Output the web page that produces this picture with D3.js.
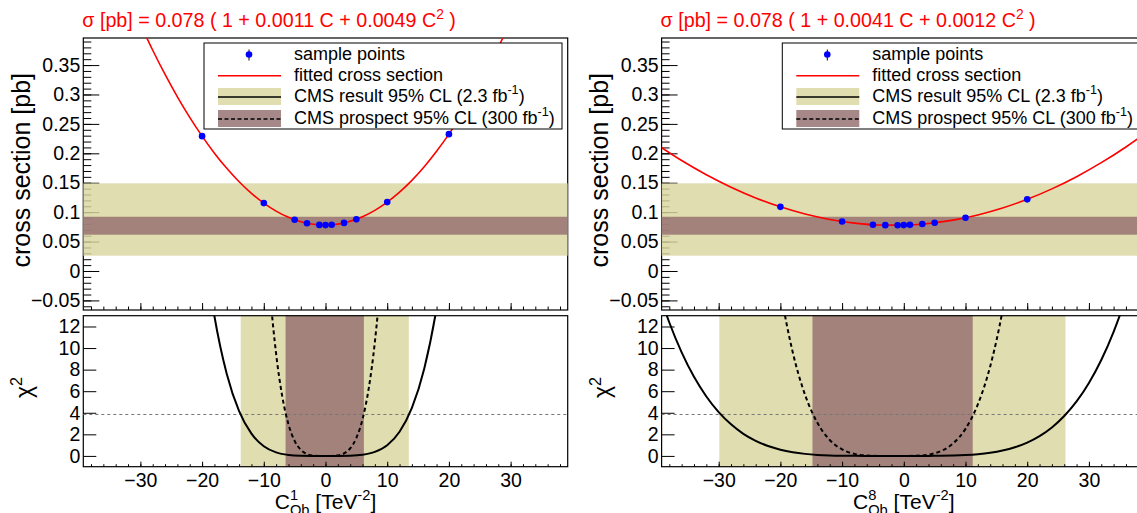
<!DOCTYPE html>
<html>
<head>
<meta charset="utf-8">
<script src="https://cdn.jsdelivr.net/npm/d3@7"></script>
<style>
body { margin: 0; background: #fff; }
svg { display: block; font-family: "Liberation Sans", Arial, Helvetica, sans-serif; }
</style>
</head>
<body>
<svg id="chart" width="1137" height="513"></svg>
<script>
/*global d3 */

// ---- data ----
var titleCoefA = ["0.078", "0.0011", "0.0049"];
var titleCoefB = ["0.078", "0.0041", "0.0012"];
var xTitleSup = ["1", "8"];

// sample points (same C values in both panels)
var sampleC = [-20, -10, -5, -3, -1, 0, 1, 3, 5, 10, 20];
var sampleXsecA = [0.2292, 0.1154, 0.0871, 0.0812, 0.0783, 0.0780, 0.0785, 0.0817, 0.0880, 0.1171, 0.2326];
var sampleXsecB = [0.1090, 0.0842, 0.0787, 0.0779, 0.0778, 0.0780, 0.0784, 0.0798, 0.0819, 0.0906, 0.1218];

// fitted cross section curves
var fitCA = [-30, -28, -26, -24, -22, -20, -18, -16, -14, -12, -10, -8, -6, -4, -2, 0,
             2, 4, 6, 8, 10, 12, 14, 16, 18, 20, 22, 24, 26, 28, 30];
var fitXsecA = [0.4194, 0.3752, 0.3341, 0.2961, 0.2611, 0.2292, 0.2003, 0.1745, 0.1517, 0.1320,
                0.1154, 0.1018, 0.0912, 0.0838, 0.0794, 0.0780, 0.0797, 0.0845, 0.0923, 0.1031,
                0.1171, 0.1341, 0.1541, 0.1772, 0.2034, 0.2326, 0.2649, 0.3002, 0.3386, 0.3800, 0.4246];
var fitCB = [-40, -36, -32, -28, -24, -20, -16, -12, -8, -4, 0, 4, 8, 12, 16, 20, 24, 28, 32, 36, 40];
var fitXsecB = [0.2150, 0.1878, 0.1636, 0.1424, 0.1242, 0.1090, 0.0968, 0.0876, 0.0814, 0.0782,
                0.0780, 0.0808, 0.0865, 0.0953, 0.1071, 0.1218, 0.1396, 0.1603, 0.1841, 0.2108, 0.2406];

// chi2 curves: CMS result (solid) and prospect (dashed)
var chiSolidCA = [-20, -18, -16, -14, -12, -10, -8, -6, -4, -2, 0, 2, 4, 6, 8, 10, 12, 14, 16, 18, 20];
var chiSolidA = [20.9, 12.95, 7.60, 4.15, 2.06, 0.90, 0.326, 0.087, 0.014, 0.001, 0,
                 0.001, 0.017, 0.103, 0.369, 0.99, 2.24, 4.45, 8.09, 13.70, 21.9];
var chiDashCA = [-10, -9, -8, -7, -6, -5, -4, -3, -2, -1, 0, 1, 2, 3, 4, 5, 6, 7, 8, 9, 10];
var chiDashA = [23.3, 15.23, 9.45, 5.49, 2.93, 1.39, 0.557, 0.169, 0.031, 0.0015, 0,
                0.0036, 0.048, 0.228, 0.696, 1.664, 3.40, 6.24, 10.56, 16.81, 25.5];
var chiSolidCB = [-40, -38, -36, -34, -32, -30, -28, -26, -24, -22, -20, -18, -16, -14, -12, -10,
                  -8, -6, -4, -2, 0, 2, 4, 6, 8, 10, 12, 14, 16, 18, 20, 22, 24, 26, 28, 30, 32, 34, 36, 38];
var chiSolidB = [15.73, 12.37, 9.60, 7.33, 5.51, 4.06, 2.93, 2.05, 1.40, 0.914, 0.574, 0.341, 0.189,
                 0.095, 0.042, 0.016, 0.004, 0.0005, 0, 0, 0, 0.0001, 0.003, 0.011, 0.032, 0.076,
                 0.156, 0.289, 0.496, 0.803, 1.24, 1.84, 2.64, 3.70, 5.05, 6.76, 8.89, 11.51, 14.68, 18.49];
var chiDashCB = [-22, -20, -18, -16, -14, -12, -10, -8, -6, -4, -2, 0, 2, 4, 6, 8, 10, 12, 14, 16, 18];
var chiDashB = [23.3, 15.4, 9.62, 5.66, 3.07, 1.48, 0.605, 0.188, 0.034, 0.001, 0.001, 0,
                0.016, 0.123, 0.446, 1.165, 2.51, 4.78, 8.30, 13.48, 20.8];

// 95% CL bands
var xsecBandResult = [0.026, 0.149];
var xsecBandProspect = [0.0617, 0.0922];
var cBandResultA = [-13.74, 13.5];
var cBandProspectA = [-6.47, 6.22];
var cBandResultB = [-29.9, 26.2];
var cBandProspectB = [-14.8, 11.17];
var chiLimit = 3.84;

// axis ticks
var xsecTicks = [-0.05, 0, 0.05, 0.1, 0.15, 0.2, 0.25, 0.3, 0.35];
var xsecTickLabels = ["\u22120.05", "0", "0.05", "0.1", "0.15", "0.2", "0.25", "0.3", "0.35"];
var chiTicks = [0, 2, 4, 6, 8, 10, 12];
var chiTickLabels = ["0", "2", "4", "6", "8", "10", "12"];
var cTicks = [-30, -20, -10, 0, 10, 20, 30];
var cTickLabels = ["\u221230", "\u221220", "\u221210", "0", "10", "20", "30"];

var legendLabels = ["sample points", "fitted cross section", "CMS result 95% CL (2.3 fb", "CMS prospect 95% CL (300 fb"];

// ---- layout ----
var panelX = [0, 578.3];
var plotLeft = 83.3, plotRight = 567.7;
var topPad = [38, 310], botPad = [315.7, 466.7];
var yellow = "#d9d59f", brown = "#946e6f";
var fs = 19.5;

var svg = d3.select("#chart");
var defs = svg.append("defs");

var x = d3.scaleLinear().domain([-39.25, 39.25]).range([plotLeft, plotRight]);
var yTop = d3.scaleLinear().domain([-0.0663, 0.396]).range([topPad[1], topPad[0]]);
var yBot = d3.scaleLinear().domain([-1, 13]).range([botPad[1], botPad[0]]);

function rich(sel, parts, size) {
    // parts: [text, 0 normal | 1 sup | 2 sub, dx]
    var shift = 0;
    parts.forEach(function(p) {
        var target = p[1] === 1 ? -0.42 * size : (p[1] === 2 ? 0.32 * size : 0);
        var t = sel.append("tspan").text(p[0]).attr("dy", target - shift);
        shift = target;
        if (p[1]) t.attr("font-size", 0.7 * size);
        if (p[2]) t.attr("dx", p[2]);
    });
    return sel;
}

function cleanAxis(g) {
    g.select(".domain").remove();
    g.selectAll(".tick line").attr("stroke", "#000");
    g.selectAll("text").attr("fill", "#000").attr("font-size", fs)
        .attr("font-family", "Liberation Sans, Arial, sans-serif");
}

function drawPanel(i, d) {
    var g = svg.append("g").attr("transform", "translate(" + panelX[i] + ",0)");

    defs.append("clipPath").attr("id", "clipTop" + i).append("rect")
        .attr("x", plotLeft).attr("y", topPad[0])
        .attr("width", plotRight - plotLeft).attr("height", topPad[1] - topPad[0]);
    defs.append("clipPath").attr("id", "clipBot" + i).append("rect")
        .attr("x", plotLeft).attr("y", botPad[0])
        .attr("width", plotRight - plotLeft).attr("height", botPad[1] - botPad[0]);

    // ===== top pad =====
    g.append("rect").attr("x", plotLeft).attr("y", topPad[0])
        .attr("width", plotRight - plotLeft).attr("height", topPad[1] - topPad[0])
        .attr("fill", "none").attr("stroke", "#000").attr("stroke-width", 1.2);

    g.append("g").attr("transform", "translate(" + plotLeft + ",0)")
        .call(d3.axisLeft(yTop).tickValues(d3.range(-6, 40).map(function(v) { return v / 100; }))
            .tickSize(-8).tickFormat(""))
        .call(cleanAxis);
    g.append("g").attr("transform", "translate(" + plotLeft + ",0)")
        .call(d3.axisLeft(yTop).tickValues(xsecTicks).tickSize(-16).tickPadding(3)
            .tickFormat(function(v, j) { return xsecTickLabels[j]; }))
        .call(cleanAxis);
    g.append("g").attr("transform", "translate(0," + topPad[1] + ")")
        .call(d3.axisBottom(x).tickValues(d3.range(-38, 39, 2)).tickSize(-3.5).tickFormat(""))
        .call(cleanAxis);
    g.append("g").attr("transform", "translate(0," + topPad[1] + ")")
        .call(d3.axisBottom(x).tickValues(cTicks).tickSize(-7).tickFormat(""))
        .call(cleanAxis);

    var tb = g.append("g");
    tb.append("rect").attr("x", plotLeft).attr("width", plotRight - plotLeft)
        .attr("y", yTop(xsecBandResult[1])).attr("height", yTop(xsecBandResult[0]) - yTop(xsecBandResult[1]))
        .attr("fill", yellow).attr("fill-opacity", 0.82);
    tb.append("rect").attr("x", plotLeft).attr("width", plotRight - plotLeft)
        .attr("y", yTop(xsecBandProspect[1])).attr("height", yTop(xsecBandProspect[0]) - yTop(xsecBandProspect[1]))
        .attr("fill", brown).attr("fill-opacity", 0.82);

    var line = d3.line().curve(d3.curveMonotoneX)
        .x(function(p) { return x(p[0]); }).y(function(p) { return yTop(p[1]); });
    g.append("path").attr("clip-path", "url(#clipTop" + i + ")")
        .datum(d3.zip(d.fitC, d.fitXsec))
        .attr("d", line).attr("fill", "none").attr("stroke", "#ff0000").attr("stroke-width", 1.6);

    g.append("g").selectAll("circle").data(d3.zip(sampleC, d.sampleXsec)).join("circle")
        .attr("cx", function(p) { return x(p[0]); }).attr("cy", function(p) { return yTop(p[1]); })
        .attr("r", 3.3).attr("fill", "#0000ff");

    // legend
    var lg = g.append("g");
    lg.append("rect").attr("x", 204).attr("y", 43).attr("width", 358).attr("height", 86)
        .attr("fill", "#fff").attr("stroke", "#000").attr("stroke-width", 1);
    lg.append("line").attr("x1", 249).attr("x2", 249).attr("y1", 49.5).attr("y2", 60.5)
        .attr("stroke", "#000");
    lg.append("circle").attr("cx", 249).attr("cy", 54.5).attr("r", 3.3).attr("fill", "#0000ff");
    lg.append("line").attr("x1", 218).attr("x2", 281).attr("y1", 75.7).attr("y2", 75.7)
        .attr("stroke", "#ff0000").attr("stroke-width", 1.6);
    lg.append("rect").attr("x", 218).attr("y", 88).attr("width", 63).attr("height", 17)
        .attr("fill", yellow).attr("fill-opacity", 0.82);
    lg.append("line").attr("x1", 218).attr("x2", 281).attr("y1", 97).attr("y2", 97)
        .attr("stroke", "#000").attr("stroke-width", 1.6);
    lg.append("rect").attr("x", 218).attr("y", 110).attr("width", 63).attr("height", 17)
        .attr("fill", brown).attr("fill-opacity", 0.82);
    lg.append("line").attr("x1", 218).attr("x2", 281).attr("y1", 119).attr("y2", 119)
        .attr("stroke", "#000").attr("stroke-width", 1.4).attr("stroke-dasharray", "4,2.5");
    var rowY = [59.5, 80.5, 102, 123.5];
    legendLabels.forEach(function(lab, j) {
        var t = lg.append("text").attr("x", 294).attr("y", rowY[j]).attr("font-size", 18);
        if (j < 2) t.text(lab);
        else rich(t, [[lab, 0], ["-1", 1], [")", 0]], 18);
    });

    // title
    var c = d.coef;
    rich(g.append("text").attr("x", plotLeft - 1).attr("y", 27).attr("fill", "#ff0000").attr("font-size", 19.7),
        [["\u03c3 [pb] = " + c[0] + " ( 1 + " + c[1] + " C + " + c[2] + " C", 0], ["2", 1], [" )", 0]], 19.7);

    g.append("text").attr("transform", "translate(29.5,73) rotate(-90)")
        .attr("text-anchor", "end").attr("font-size", 25).text("cross section [pb]");

    // ===== bottom pad =====
    [[d.bandResult, yellow], [d.bandProspect, brown]].forEach(function(b) {
        g.append("rect").attr("x", x(b[0][0])).attr("width", x(b[0][1]) - x(b[0][0]))
            .attr("y", botPad[0]).attr("height", botPad[1] - botPad[0])
            .attr("fill", b[1]).attr("fill-opacity", 0.82);
    });

    g.append("rect").attr("x", plotLeft).attr("y", botPad[0])
        .attr("width", plotRight - plotLeft).attr("height", botPad[1] - botPad[0])
        .attr("fill", "none").attr("stroke", "#000").attr("stroke-width", 1.2);

    g.append("g").attr("transform", "translate(" + plotLeft + ",0)")
        .call(d3.axisLeft(yBot).tickValues(chiTicks).tickSize(-13).tickPadding(3)
            .tickFormat(function(v, j) { return chiTickLabels[j]; }))
        .call(cleanAxis);
    g.append("g").attr("transform", "translate(0," + botPad[1] + ")")
        .call(d3.axisBottom(x).tickValues(d3.range(-38, 39, 2)).tickSize(-2.5).tickFormat(""))
        .call(cleanAxis);
    var xa = g.append("g").attr("transform", "translate(0," + botPad[1] + ")")
        .call(d3.axisBottom(x).tickValues(cTicks).tickSize(-5)
            .tickFormat(function(v, j) { return cTickLabels[j]; }))
        .call(cleanAxis);
    xa.selectAll("text").attr("y", 20).attr("dy", null);

    g.append("line").attr("x1", plotLeft).attr("x2", plotRight)
        .attr("y1", yBot(chiLimit)).attr("y2", yBot(chiLimit))
        .attr("stroke", "#777").attr("stroke-width", 1).attr("stroke-dasharray", "3,3");

    var chiLine = d3.line().curve(d3.curveMonotoneX)
        .x(function(p) { return x(p[0]); }).y(function(p) { return yBot(p[1]); });
    var cb = g.append("g").attr("clip-path", "url(#clipBot" + i + ")");
    cb.append("path").datum(d3.zip(d.chiSolidC, d.chiSolid)).attr("d", chiLine)
        .attr("fill", "none").attr("stroke", "#000").attr("stroke-width", 2);
    cb.append("path").datum(d3.zip(d.chiDashC, d.chiDash)).attr("d", chiLine)
        .attr("fill", "none").attr("stroke", "#000").attr("stroke-width", 2)
        .attr("stroke-dasharray", "4,3");

    rich(g.append("text").attr("transform", "translate(32,377) rotate(-90)")
        .attr("text-anchor", "end").attr("font-size", 23), [["\u03c7", 0], ["2", 1]], 23);

    var mid = (plotLeft + plotRight) / 2;
    rich(g.append("text").attr("x", mid).attr("y", 508.5).attr("text-anchor", "middle").attr("font-size", 21),
        [["C", 0], [d.sup, 1], ["Ob", 2, -8.2], [" [TeV", 0], ["-2", 1], ["]", 0]], 21);
}

drawPanel(0, {
    coef: titleCoefA, sup: xTitleSup[0], sampleXsec: sampleXsecA,
    fitC: fitCA, fitXsec: fitXsecA,
    chiSolidC: chiSolidCA, chiSolid: chiSolidA, chiDashC: chiDashCA, chiDash: chiDashA,
    bandResult: cBandResultA, bandProspect: cBandProspectA
});
drawPanel(1, {
    coef: titleCoefB, sup: xTitleSup[1], sampleXsec: sampleXsecB,
    fitC: fitCB, fitXsec: fitXsecB,
    chiSolidC: chiSolidCB, chiSolid: chiSolidB, chiDashC: chiDashCB, chiDash: chiDashB,
    bandResult: cBandResultB, bandProspect: cBandProspectB
});
</script>
</body>
</html>
